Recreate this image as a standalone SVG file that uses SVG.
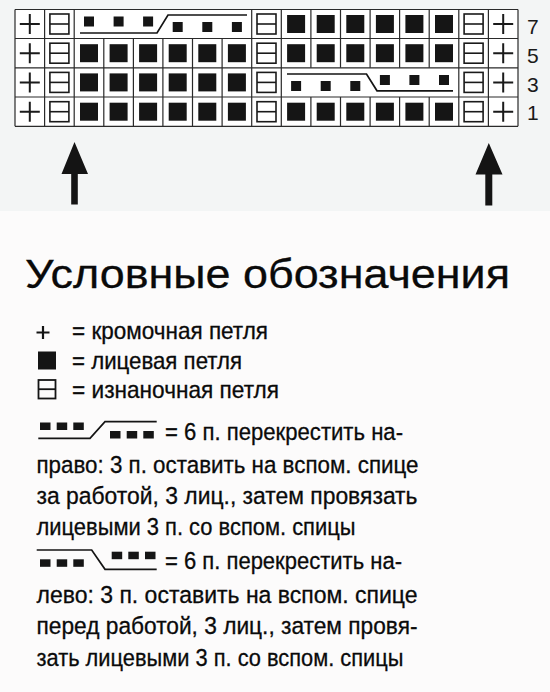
<svg xmlns="http://www.w3.org/2000/svg" xmlns:xlink="http://www.w3.org/1999/xlink" width="550" height="692" viewBox="0 0 550 692">
<style>
.t{font-family:"Liberation Sans Narrow","Liberation Sans",Arial,sans-serif;fill:#0a0a0a;stroke:#0a0a0a;stroke-width:0.3}
.n{font-family:"Liberation Sans Narrow","Liberation Sans",Arial,sans-serif;fill:#1a1a1a;font-size:21px}
.h{font-family:"Liberation Sans",Arial,sans-serif;fill:#0a0a0a;stroke:#0a0a0a;stroke-width:0.3}
.b{font-size:24.5px}
.l{font-size:24px}
.g{stroke:#2a2a2a;stroke-width:1.2;fill:none}
.c{stroke:#141414;stroke-width:1.7;fill:none}
.k{fill:#151515}
</style>
<defs>
<path id="plus" d="M-10 0H10M0-10V10" stroke="#1a1a1a" stroke-width="2" fill="none"/>
<g id="purl" stroke="#1a1a1a" stroke-width="1.6" fill="none"><rect x="-9.5" y="-10" width="19" height="20"/><path d="M-9.5 0H9.5"/></g>
<rect id="knit" x="-9" y="-9" width="18" height="18" fill="#151515"/>
<rect id="sm" x="-5" y="-5" width="10" height="10" fill="#151515"/>
</defs>
<rect x="0" y="0" width="550" height="692" fill="#fcfbfb"/>
<rect x="0" y="0" width="550" height="211" fill="#f3f5f5"/>

<g id="chart">
<rect x="15" y="9.5" width="503" height="116.8" fill="#ffffff"/>
<path class="g" d="M15 9.5H518M15 38.5H518M15 67.8H518M15 97H518M15 126.3H518"/>
<path class="g" d="M15 9.5V126.3M44.6 9.5V126.3M74.2 9.5V126.3M251.7 9.5V126.3M281.3 9.5V126.3M458.8 9.5V126.3M488.4 9.5V126.3M518 9.5V126.3
M103.8 38.5V126.3M133.4 38.5V126.3M162.9 38.5V126.3M192.5 38.5V126.3M222.1 38.5V126.3
M310.9 9.5V67.8M340.5 9.5V67.8M370.1 9.5V67.8M399.6 9.5V67.8M429.2 9.5V67.8
M310.9 97V126.3M340.5 97V126.3M370.1 97V126.3M399.6 97V126.3M429.2 97V126.3"/>
<g id="edges">
<use xlink:href="#plus" x="29.8" y="24"/><use xlink:href="#plus" x="29.8" y="53.2"/><use xlink:href="#plus" x="29.8" y="82.4"/><use xlink:href="#plus" x="29.8" y="111.7"/>
<use xlink:href="#plus" x="503.2" y="24"/><use xlink:href="#plus" x="503.2" y="53.2"/><use xlink:href="#plus" x="503.2" y="82.4"/><use xlink:href="#plus" x="503.2" y="111.7"/>
<use xlink:href="#purl" x="59.4" y="24"/><use xlink:href="#purl" x="59.4" y="53.2"/><use xlink:href="#purl" x="59.4" y="82.4"/><use xlink:href="#purl" x="59.4" y="111.7"/>
<use xlink:href="#purl" x="266.5" y="24"/><use xlink:href="#purl" x="266.5" y="53.2"/><use xlink:href="#purl" x="266.5" y="82.4"/><use xlink:href="#purl" x="266.5" y="111.7"/>
<use xlink:href="#purl" x="473.6" y="24"/><use xlink:href="#purl" x="473.6" y="53.2"/><use xlink:href="#purl" x="473.6" y="82.4"/><use xlink:href="#purl" x="473.6" y="111.7"/>
</g>
<g id="knits">
<use xlink:href="#knit" x="296.1" y="24"/><use xlink:href="#knit" x="325.7" y="24"/><use xlink:href="#knit" x="355.3" y="24"/><use xlink:href="#knit" x="384.9" y="24"/><use xlink:href="#knit" x="414.4" y="24"/><use xlink:href="#knit" x="444" y="24"/>
<use xlink:href="#knit" x="89" y="53.2"/><use xlink:href="#knit" x="118.6" y="53.2"/><use xlink:href="#knit" x="148.1" y="53.2"/><use xlink:href="#knit" x="177.7" y="53.2"/><use xlink:href="#knit" x="207.3" y="53.2"/><use xlink:href="#knit" x="236.9" y="53.2"/>
<use xlink:href="#knit" x="296.1" y="53.2"/><use xlink:href="#knit" x="325.7" y="53.2"/><use xlink:href="#knit" x="355.3" y="53.2"/><use xlink:href="#knit" x="384.9" y="53.2"/><use xlink:href="#knit" x="414.4" y="53.2"/><use xlink:href="#knit" x="444" y="53.2"/>
<use xlink:href="#knit" x="89" y="82.4"/><use xlink:href="#knit" x="118.6" y="82.4"/><use xlink:href="#knit" x="148.1" y="82.4"/><use xlink:href="#knit" x="177.7" y="82.4"/><use xlink:href="#knit" x="207.3" y="82.4"/><use xlink:href="#knit" x="236.9" y="82.4"/>
<use xlink:href="#knit" x="89" y="111.7"/><use xlink:href="#knit" x="118.6" y="111.7"/><use xlink:href="#knit" x="148.1" y="111.7"/><use xlink:href="#knit" x="177.7" y="111.7"/><use xlink:href="#knit" x="207.3" y="111.7"/><use xlink:href="#knit" x="236.9" y="111.7"/>
<use xlink:href="#knit" x="296.1" y="111.7"/><use xlink:href="#knit" x="325.7" y="111.7"/><use xlink:href="#knit" x="355.3" y="111.7"/><use xlink:href="#knit" x="384.9" y="111.7"/><use xlink:href="#knit" x="414.4" y="111.7"/><use xlink:href="#knit" x="444" y="111.7"/>
</g>
<g id="cable-right">
<use xlink:href="#sm" x="89" y="21.5"/><use xlink:href="#sm" x="118.6" y="21.5"/><use xlink:href="#sm" x="148.1" y="21.5"/>
<use xlink:href="#sm" x="177.7" y="27"/><use xlink:href="#sm" x="207.3" y="27"/><use xlink:href="#sm" x="236.9" y="27"/>
<path class="c" d="M80 33H157L168 15H247"/>
</g>
<g id="cable-left">
<use xlink:href="#sm" x="296.1" y="86"/><use xlink:href="#sm" x="325.7" y="86"/><use xlink:href="#sm" x="355.3" y="86"/>
<use xlink:href="#sm" x="384.9" y="80"/><use xlink:href="#sm" x="414.4" y="80"/><use xlink:href="#sm" x="444" y="80"/>
<path class="c" d="M287 74H366.5L377 90.8H453"/>
</g>
<g id="row-numbers" class="n">
<text x="527" y="33.5">7</text>
<text x="527" y="62.5">5</text>
<text x="527" y="91.5">3</text>
<text x="527" y="120">1</text>
</g>
</g>

<g id="connectors" fill="#141414">
<polygon points="74.5,142 61.5,174 71.2,174 71.2,204.5 77.8,204.5 77.8,174 88,174"/>
<polygon points="488.8,143 475.5,174.5 485.3,174.5 485.3,205.5 492.3,205.5 492.3,174.5 502.5,174.5"/>
</g>

<g id="title">
<text class="h" x="25" y="288" font-size="41" textLength="485" lengthAdjust="spacingAndGlyphs">Условные обозначения</text>
</g>

<g id="legend-basic">
<path d="M36.5 332.5H49.5M43 326V339" stroke="#141414" stroke-width="2.2" fill="none"/>
<text class="t l" x="72" y="339" textLength="196" lengthAdjust="spacingAndGlyphs">= кромочная петля</text>
<rect x="38" y="351.5" width="18" height="18" fill="#141414"/>
<text class="t l" x="72" y="369" textLength="170" lengthAdjust="spacingAndGlyphs">= лицевая петля</text>
<g stroke="#141414" stroke-width="1.8" fill="none"><rect x="38.5" y="380" width="17" height="18.5"/><path d="M38.5 389.2H55.5"/></g>
<text class="t l" x="72" y="398" textLength="207" lengthAdjust="spacingAndGlyphs">= изнаночная петля</text>
</g>

<g id="legend-cable-right">
<g class="k"><rect x="40" y="422.5" width="10.5" height="7.5"/><rect x="56.7" y="422.5" width="10.5" height="7.5"/><rect x="73.3" y="422.5" width="10.5" height="7.5"/>
<rect x="110" y="431" width="10.5" height="7.5"/><rect x="126.7" y="431" width="10.5" height="7.5"/><rect x="143.3" y="431" width="10.5" height="7.5"/></g>
<path class="c" d="M38.3 438.3H90L105 421.7H156.7"/>
<text class="t b" x="165" y="440" textLength="238" lengthAdjust="spacingAndGlyphs">= 6 п. перекрестить на-</text>
<text class="t b" x="36.5" y="473" textLength="382" lengthAdjust="spacingAndGlyphs">право: 3 п. оставить на вспом. спице</text>
<text class="t b" x="36.5" y="504" textLength="381" lengthAdjust="spacingAndGlyphs">за работой, 3 лиц., затем провязать</text>
<text class="t b" x="36.5" y="535" textLength="319" lengthAdjust="spacingAndGlyphs">лицевыми 3 п. со вспом. спицы</text>
</g>

<g id="legend-cable-left">
<g class="k"><rect x="40" y="559.3" width="10.5" height="7.5"/><rect x="56.7" y="559.3" width="10.5" height="7.5"/><rect x="73.3" y="559.3" width="10.5" height="7.5"/>
<rect x="111.7" y="551.7" width="10.5" height="7.5"/><rect x="128.3" y="551.7" width="10.5" height="7.5"/><rect x="145" y="551.7" width="10.5" height="7.5"/></g>
<path class="c" d="M36.7 550H91.7L105 569.3H156.7"/>
<text class="t b" x="165" y="569" textLength="237" lengthAdjust="spacingAndGlyphs">= 6 п. перекрестить на-</text>
<text class="t b" x="36.5" y="603" textLength="381" lengthAdjust="spacingAndGlyphs">лево: 3 п. оставить на вспом. спице</text>
<text class="t b" x="36.5" y="634" textLength="381" lengthAdjust="spacingAndGlyphs">перед работой, 3 лиц., затем провя-</text>
<text class="t b" x="36.5" y="666" textLength="367" lengthAdjust="spacingAndGlyphs">зать лицевыми 3 п. со вспом. спицы</text>
</g>
</svg>
